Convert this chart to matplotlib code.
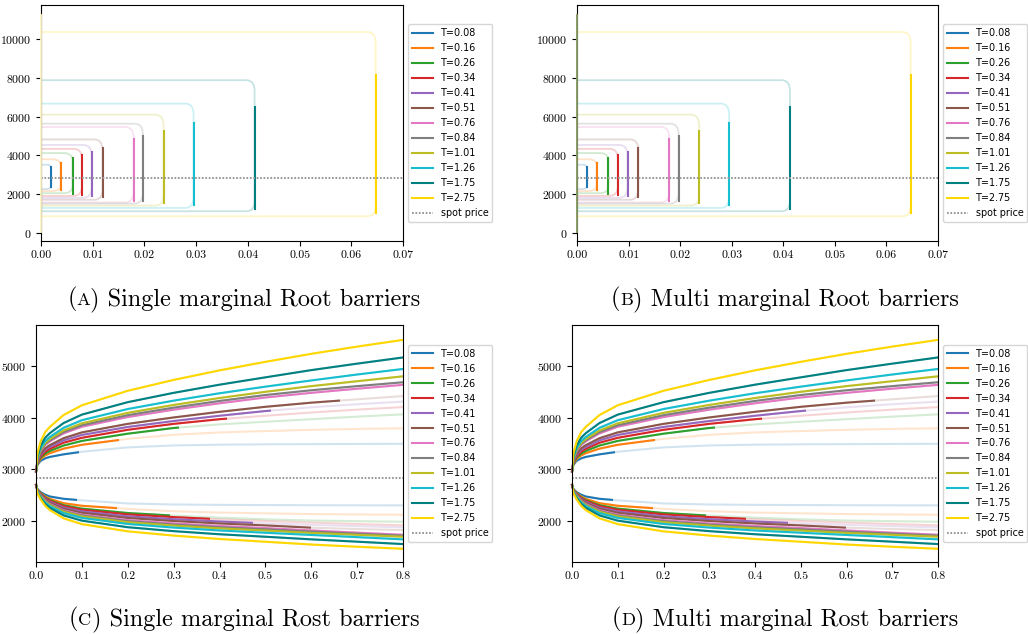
import matplotlib
matplotlib.use('Agg')
import matplotlib.pyplot as plt
from matplotlib.colors import to_rgb
from matplotlib.path import Path
from matplotlib.patches import PathPatch, Rectangle

plt.rcParams['font.family'] = 'cmr10'
plt.rcParams['mathtext.fontset'] = 'cm'
plt.rcParams['axes.formatter.use_mathtext'] = True

maturities = [0.08, 0.16, 0.26, 0.34, 0.41, 0.51, 0.76, 0.84, 1.01, 1.26, 1.75, 2.75]
colors = ['tab:blue', 'tab:orange', 'tab:green', 'tab:red', 'tab:purple', 'tab:brown',
          'tab:pink', 'tab:gray', 'tab:olive', 'tab:cyan', 'teal', 'gold']
spot = 2830

# Root barriers: time of the vertical part, light outline levels, solid part
root_x = [0.0020, 0.0038, 0.0061, 0.0079, 0.0098, 0.0119, 0.0179, 0.0197, 0.0237, 0.0295, 0.0413, 0.0647]
root_top = [3510, 3790, 4110, 4330, 4530, 4815, 5458, 5630, 6097, 6667, 7876, 10363]
root_bot = [2250, 2150, 2040, 1900, 1800, 1700, 1560, 1503, 1399, 1278, 1105, 846]
root_hi = [3400, 3620, 3833, 4005, 4177, 4360, 4825, 4990, 5268, 5682, 6511, 8152]
root_lo = [2365, 2190, 2020, 1950, 1920, 1830, 1650, 1622, 1554, 1451, 1243, 1036]
root_edge = [30, 11250]

# Rost barriers sampled on a time grid
rost_t = [0, 0.003, 0.01, 0.02, 0.03, 0.06, 0.1, 0.2, 0.3, 0.4, 0.5, 0.6, 0.7, 0.8]
rost_upper = [
    [2960, 3085, 3165, 3212, 3240, 3290, 3340, 3425, 3462, 3477, 3484, 3488, 3491, 3494],
    [2960, 3100, 3200, 3268, 3312, 3400, 3475, 3590, 3668, 3714, 3741, 3765, 3782, 3795],
    [2960, 3115, 3225, 3305, 3355, 3460, 3550, 3690, 3800, 3870, 3921, 3970, 4020, 4064],
    [2960, 3130, 3250, 3340, 3395, 3515, 3610, 3765, 3880, 3970, 4037, 4100, 4155, 4205],
    [2960, 3147, 3280, 3378, 3434, 3560, 3665, 3820, 3935, 4037, 4128, 4200, 4260, 4310],
    [2960, 3160, 3303, 3408, 3468, 3603, 3715, 3880, 4004, 4113, 4210, 4290, 4355, 4418],
    [2960, 3189, 3352, 3472, 3541, 3695, 3824, 4012, 4154, 4278, 4390, 4480, 4560, 4635],
    [2960, 3196, 3365, 3489, 3560, 3720, 3853, 4048, 4194, 4323, 4438, 4530, 4610, 4685],
    [2960, 3206, 3382, 3511, 3585, 3752, 3890, 4093, 4246, 4380, 4500, 4610, 4705, 4800],
    [2960, 3222, 3409, 3547, 3626, 3803, 3951, 4167, 4329, 4472, 4600, 4720, 4835, 4942],
    [2960, 3251, 3459, 3612, 3699, 3895, 4059, 4300, 4480, 4638, 4780, 4920, 5045, 5165],
    [2960, 3300, 3540, 3720, 3820, 4050, 4240, 4520, 4730, 4915, 5080, 5235, 5375, 5505],
]
rost_lower = [
    [2700, 2620, 2560, 2509, 2475, 2430, 2400, 2340, 2320, 2312, 2309, 2306, 2304, 2303],
    [2700, 2610, 2540, 2474, 2430, 2345, 2295, 2235, 2190, 2163, 2149, 2135, 2127, 2121],
    [2700, 2603, 2531, 2455, 2405, 2307, 2240, 2155, 2105, 2065, 2033, 2010, 1997, 1986],
    [2700, 2598, 2522, 2443, 2390, 2288, 2217, 2128, 2076, 2034, 2000, 1970, 1942, 1916],
    [2700, 2592, 2511, 2426, 2370, 2261, 2186, 2091, 2035, 1991, 1955, 1925, 1900, 1877],
    [2700, 2586, 2501, 2412, 2352, 2238, 2158, 2059, 2000, 1953, 1915, 1871, 1845, 1825],
    [2700, 2579, 2488, 2393, 2330, 2208, 2123, 2017, 1954, 1904, 1864, 1818, 1775, 1734],
    [2700, 2575, 2481, 2384, 2319, 2193, 2106, 1997, 1932, 1880, 1839, 1795, 1755, 1715],
    [2700, 2572, 2475, 2375, 2308, 2179, 2089, 1977, 1911, 1857, 1815, 1770, 1733, 1696],
    [2700, 2566, 2465, 2359, 2289, 2154, 2060, 1943, 1873, 1817, 1773, 1730, 1688, 1645],
    [2700, 2554, 2445, 2331, 2255, 2109, 2007, 1880, 1804, 1744, 1696, 1645, 1600, 1554],
    [2700, 2540, 2420, 2295, 2212, 2052, 1940, 1800, 1718, 1652, 1599, 1545, 1502, 1463],
]
rost_upper_end = [0.094, 0.182, 0.312, 0.416, 0.512, 0.662, None, None, None, None, None, None]
rost_lower_end = [0.090, 0.177, 0.292, 0.380, 0.473, 0.599, None, None, None, None, None, None]

W, H = 1028, 634
fig = plt.figure(figsize=(W / 100, H / 100), dpi=100)


def axes_px(left, top, right, bottom):
    return fig.add_axes([left / W, 1 - bottom / H, (right - left) / W, (bottom - top) / H])


def pastel(c, a=0.22):
    r, g, b = to_rgb(c)
    return (a * r + 1 - a, a * g + 1 - a, a * b + 1 - a)


def draw_root(ax, stacked):
    for i, T in enumerate(maturities):
        c = colors[i]
        x, top, bot = root_x[i], root_top[i], root_bot[i]
        rx = min(0.0016, 0.4 * x)
        ry = min(550, 0.2 * (top - bot))
        verts = [(0, top), (x - rx, top), (x, top), (x, top - ry),
                 (x, bot + ry), (x, bot), (x - rx, bot), (0, bot)]
        codes = [Path.MOVETO, Path.LINETO, Path.CURVE3, Path.CURVE3,
                 Path.LINETO, Path.CURVE3, Path.CURVE3, Path.LINETO]
        ax.add_patch(PathPatch(Path(verts, codes), fill=False, ec=c, alpha=0.22, lw=1.3))
        if stacked:
            ax.plot([0, 0], root_edge, color=c, alpha=0.22, lw=1.3, clip_on=False, zorder=3)
        elif i == len(maturities) - 1:
            ax.plot([0, 0], root_edge, color=pastel(c), lw=1.3, clip_on=False, zorder=3)
        ax.plot([x, x], [root_lo[i], root_hi[i]], color=c, lw=1.5, label='T=%.2f' % T)
    ax.axhline(spot, ls=(0, (0.85, 0.85)), color='0.6', lw=1.45, label='spot price')
    ax.set_xlim(0, 0.07)
    ax.set_ylim(-430, 11760)
    ax.set_xticks([0, 0.01, 0.02, 0.03, 0.04, 0.05, 0.06, 0.07])
    ax.set_xticklabels(['%.2f' % v for v in ax.get_xticks()])
    ax.set_yticks([0, 2000, 4000, 6000, 8000, 10000])


def draw_rost(ax):
    for i, T in enumerate(maturities):
        c = colors[i]
        for vals, end, lab in [(rost_upper[i], rost_upper_end[i], 'T=%.2f' % T),
                               (rost_lower[i], rost_lower_end[i], None)]:
            ax.plot(rost_t, vals, color=c, alpha=0.2, lw=1.5)
            line, = ax.plot(rost_t, vals, color=c, lw=1.5, label=lab)
            if end is not None:
                clip = Rectangle((-1, 0), end + 1, 10000, transform=ax.transData)
                line.set_clip_path(clip)
    ax.axhline(spot, ls=(0, (0.85, 0.85)), color='0.6', lw=1.45, label='spot price')
    ax.set_xlim(0, 0.8)
    ax.set_ylim(1207, 5793)
    ax.set_xticks([0, 0.1, 0.2, 0.3, 0.4, 0.5, 0.6, 0.7, 0.8])
    ax.set_xticklabels(['%.1f' % v for v in ax.get_xticks()])
    ax.set_yticks([2000, 3000, 4000, 5000])


def finish(ax):
    ax.tick_params(labelsize=8.5)
    ax.legend(loc='center left', bbox_to_anchor=(1.0, 0.5),
              prop={'family': 'DejaVu Sans', 'size': 6.9},
              handlelength=2.2, handletextpad=0.85, labelspacing=0.52)


def caption(xc, yb, letter, text):
    r = fig.canvas.get_renderer()
    pieces = [('(', 17.5), (letter, 13.2), (') ' + text, 17.5)]
    arts = [fig.text(0, 1 - yb / H, s, fontsize=fs, va='baseline') for s, fs in pieces]
    widths = [a.get_window_extent(r).width for a in arts]
    x = xc - sum(widths) / 2
    for a, w in zip(arts, widths):
        a.set_x(x / W)
        x += w


ax_a = axes_px(41, 5, 403, 241)
draw_root(ax_a, stacked=False)
finish(ax_a)

ax_b = axes_px(577, 5, 938, 241)
draw_root(ax_b, stacked=True)
finish(ax_b)

ax_c = axes_px(36, 325, 403, 562)
draw_rost(ax_c)
finish(ax_c)

ax_d = axes_px(572, 325, 938, 562)
draw_rost(ax_d)
finish(ax_d)

caption(244, 305, 'A', 'Single marginal Root barriers')
caption(785, 305, 'B', 'Multi marginal Root barriers')
caption(244, 625, 'C', 'Single marginal Rost barriers')
caption(785, 625, 'D', 'Multi marginal Rost barriers')

fig.savefig('out.png', dpi=100)
